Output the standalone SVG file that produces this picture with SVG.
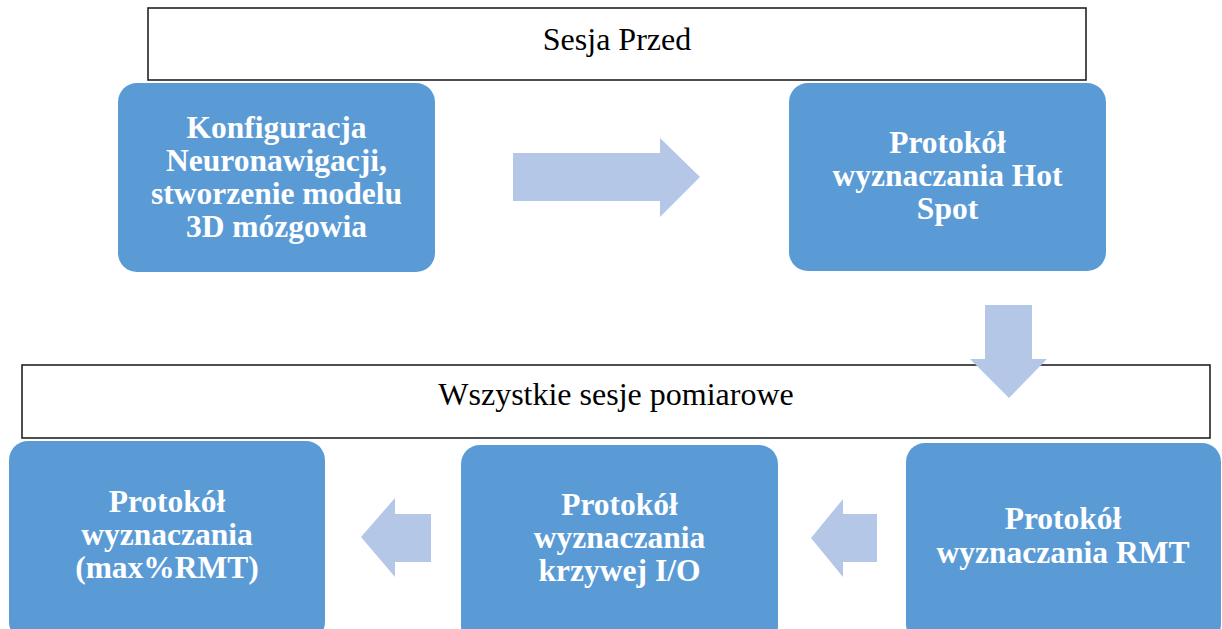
<svg xmlns="http://www.w3.org/2000/svg" width="1222" height="629" viewBox="0 0 1222 629">
<style>
.hdr{fill:#fff;stroke:#222;stroke-width:1.6}
.hdrt{font-family:"Liberation Serif","Times New Roman",serif;font-size:32px;fill:#000;text-anchor:middle}
.node{fill:#5B9BD5}
.nt{font-family:"Liberation Serif","Times New Roman",serif;font-size:31.5px;font-weight:bold;fill:#fff;text-anchor:middle}
.arr{fill:#B4C7E7}
</style>
<rect width="1222" height="629" fill="#fff"/>
<g id="hdr-top"><rect class="hdr" x="148" y="8" width="938" height="72"/><text class="hdrt" x="617" y="50">Sesja Przed</text></g>
<g id="hdr-bottom"><rect class="hdr" x="22" y="365" width="1188" height="73"/><text class="hdrt" x="616" y="405">Wszystkie sesje pomiarowe</text></g>
<g id="n1"><rect class="node" x="118" y="83" width="317" height="189" rx="19"/>
<text class="nt" x="276.5" y="138">Konfiguracja</text><text class="nt" x="276.5" y="171">Neuronawigacji,</text><text class="nt" x="276.5" y="204">stworzenie modelu</text><text class="nt" x="276.5" y="237">3D mózgowia</text></g>
<g id="n2"><rect class="node" x="789" y="83" width="317" height="188" rx="19"/>
<text class="nt" x="947.5" y="153">Protokół</text><text class="nt" x="947.5" y="186">wyznaczania Hot</text><text class="nt" x="947.5" y="219">Spot</text></g>
<g id="n3"><rect class="node" x="906" y="443" width="315" height="200" rx="19"/>
<text class="nt" x="1063" y="529">Protokół</text><text class="nt" x="1063" y="563">wyznaczania RMT</text></g>
<g id="n4"><rect class="node" x="461" y="445" width="317" height="200" rx="19"/>
<text class="nt" x="619.5" y="515">Protokół</text><text class="nt" x="619.5" y="548">wyznaczania</text><text class="nt" x="619.5" y="581">krzywej I/O</text></g>
<g id="n5"><rect class="node" x="9" y="441" width="316" height="200" rx="19"/>
<text class="nt" x="167" y="512">Protokół</text><text class="nt" x="167" y="545">wyznaczania</text><text class="nt" x="167" y="578">(max%RMT)</text></g>
<g id="connectors">
<polygon class="arr" points="513,153 660,153 660,138 700,177 660,217 660,201 513,201"/>
<polygon class="arr" points="985,305 1032,305 1032,359 1047,359 1009,398 970,359 985,359"/>
<polygon class="arr" points="877,514 843,514 843,499 811,538 843,577 843,562 877,562"/>
<polygon class="arr" points="431,514 395,514 395,498 361,537 395,577 395,562 431,562"/>
</g>
</svg>
